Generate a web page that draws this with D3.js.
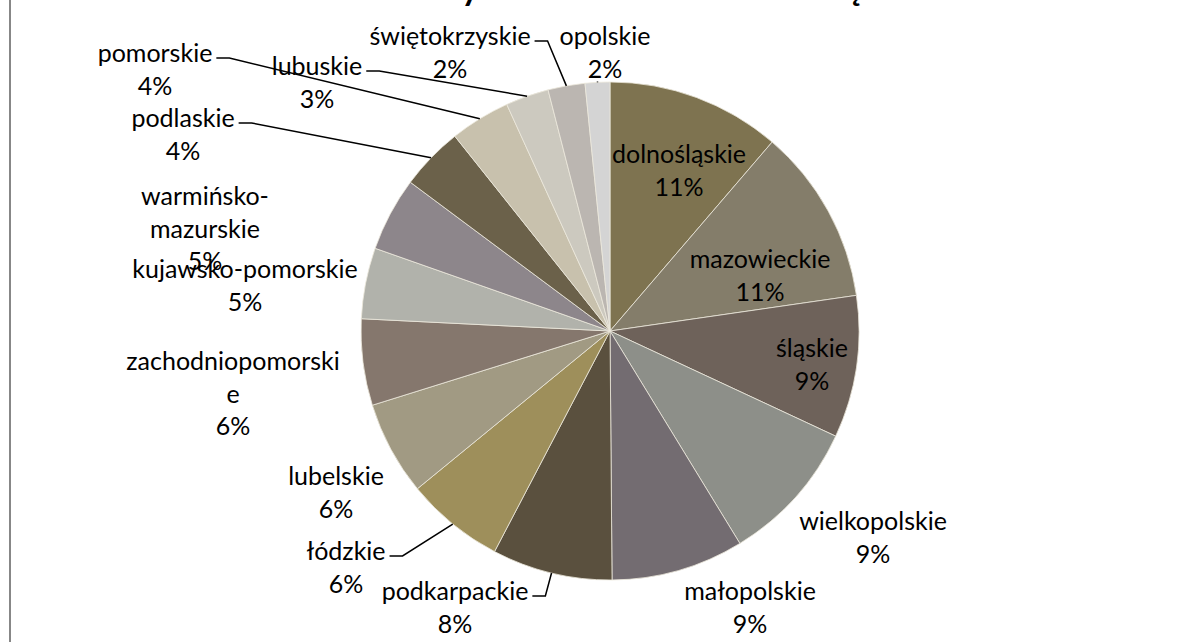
<!DOCTYPE html>
<html>
<head>
<meta charset="utf-8">
<script src="https://cdn.jsdelivr.net/npm/d3@7"></script>
<style>
  body { margin: 0; background: #fff; }
  svg { display: block; font-family: Lato, "Open Sans", sans-serif; }
</style>
</head>
<body>
<svg width="1200" height="642"></svg>
<script>
var categories = ["dolnośląskie", "mazowieckie", "śląskie", "wielkopolskie", "małopolskie",
  "podkarpackie", "łódzkie", "lubelskie", "zachodniopomorskie", "kujawsko-pomorskie",
  "warmińsko-mazurskie", "podlaskie", "pomorskie", "lubuskie", "świętokrzyskie", "opolskie"];
var values = [11.28, 11.42, 9.22, 9.32, 8.6, 7.8, 6.4, 6.1, 5.6, 4.6, 4.8, 4.1, 3.9, 2.8, 2.4, 1.6];
var colors = ["#7e7350", "#847d6a", "#6e625a", "#8d8f89", "#736c71", "#5a503e", "#9e8f5b", "#a19a83",
  "#85776d", "#b1b2ab", "#8d868b", "#6b614a", "#c8c1ad", "#ccc9bf", "#bbb6b1", "#d4d4d4"];
var titleText = "Udziały obszarów w całości – część";

// how excel wrapped the long names
var wrapped = {
  "warmińsko-mazurskie": ["warmińsko-", "mazurskie"],
  "zachodniopomorskie": ["zachodniopomorski", "e"]
};

// label placement (first line centre, relative to pie centre) and leader type
var labelPos = [[69, -178], [150, -73], [202, 16], [263, 189], [140, 259], [-155, 259],
  [-264, 219], [-274, 144], [-377, 29], [-365, -63], [-405, -136], [-427, -214],
  [-455, -279], [-293, -266], [-160, -296], [-5, -296]];
var leaders = [null, null, null, null, null, "side", "side", null, null, null, null,
  "side", "side", "side", "side", "below"];

var svg = d3.select("svg"),
    cx = 610, cy = 331, radius = 249, lineH = 32.5;

// chart frame, only the left edge is inside the picture
svg.append("rect")
  .attr("x", 10).attr("y", -20)
  .attr("width", 1400).attr("height", 700)
  .attr("fill", "none")
  .attr("stroke", "#878787")
  .attr("stroke-width", 2);

// title sits above the crop, only its descenders show
svg.append("text")
  .attr("x", 630).attr("y", 0)
  .attr("text-anchor", "middle")
  .attr("font-size", 34)
  .attr("font-weight", "bold")
  .text(titleText);

var total = d3.sum(values);
var pie = d3.pie().sort(null).value(function(d) { return d; });
var arcs = pie(values);
var arc = d3.arc().innerRadius(0).outerRadius(radius);

var g = svg.append("g").attr("transform", "translate(" + cx + "," + cy + ")");

g.selectAll("path")
  .data(arcs)
  .enter().append("path")
  .attr("d", arc)
  .attr("fill", function(d, i) { return colors[i]; })
  .attr("stroke", "#ece8dc")
  .attr("stroke-width", 0.8);

var labels = g.selectAll("g.label")
  .data(arcs)
  .enter().append("g")
  .attr("class", "label");

labels.each(function(d, i) {
  var lines = (wrapped[categories[i]] || [categories[i]]).slice();
  lines.push(Math.round(d.value / total * 100) + "%");
  var t = d3.select(this).append("text")
    .attr("text-anchor", "middle")
    .attr("font-size", 25)
    .attr("fill", "#000");
  lines.forEach(function(s, k) {
    t.append("tspan")
      .attr("x", labelPos[i][0])
      .attr("y", labelPos[i][1] + k * lineH)
      .attr("dominant-baseline", "central")
      .text(s);
  });

  if (!leaders[i]) return;
  var mid = (d.startAngle + d.endAngle) / 2;
  var ex = radius * Math.sin(mid), ey = -radius * Math.cos(mid);
  var pts;
  if (leaders[i] == "side") {
    var w = t.select("tspan").node().getComputedTextLength();
    var sx = labelPos[i][0] + w / 2 + 4, sy = labelPos[i][1] + 6;
    pts = [[sx, sy], [sx + 13, sy], [ex, ey]];
  } else {
    pts = [[ex, labelPos[i][1] + lineH + 14], [ex, ey]];
  }
  d3.select(this).append("path")
    .attr("d", d3.line()(pts))
    .attr("fill", "none")
    .attr("stroke", "#000")
    .attr("stroke-width", 1.5);
});
</script>
</body>
</html>
